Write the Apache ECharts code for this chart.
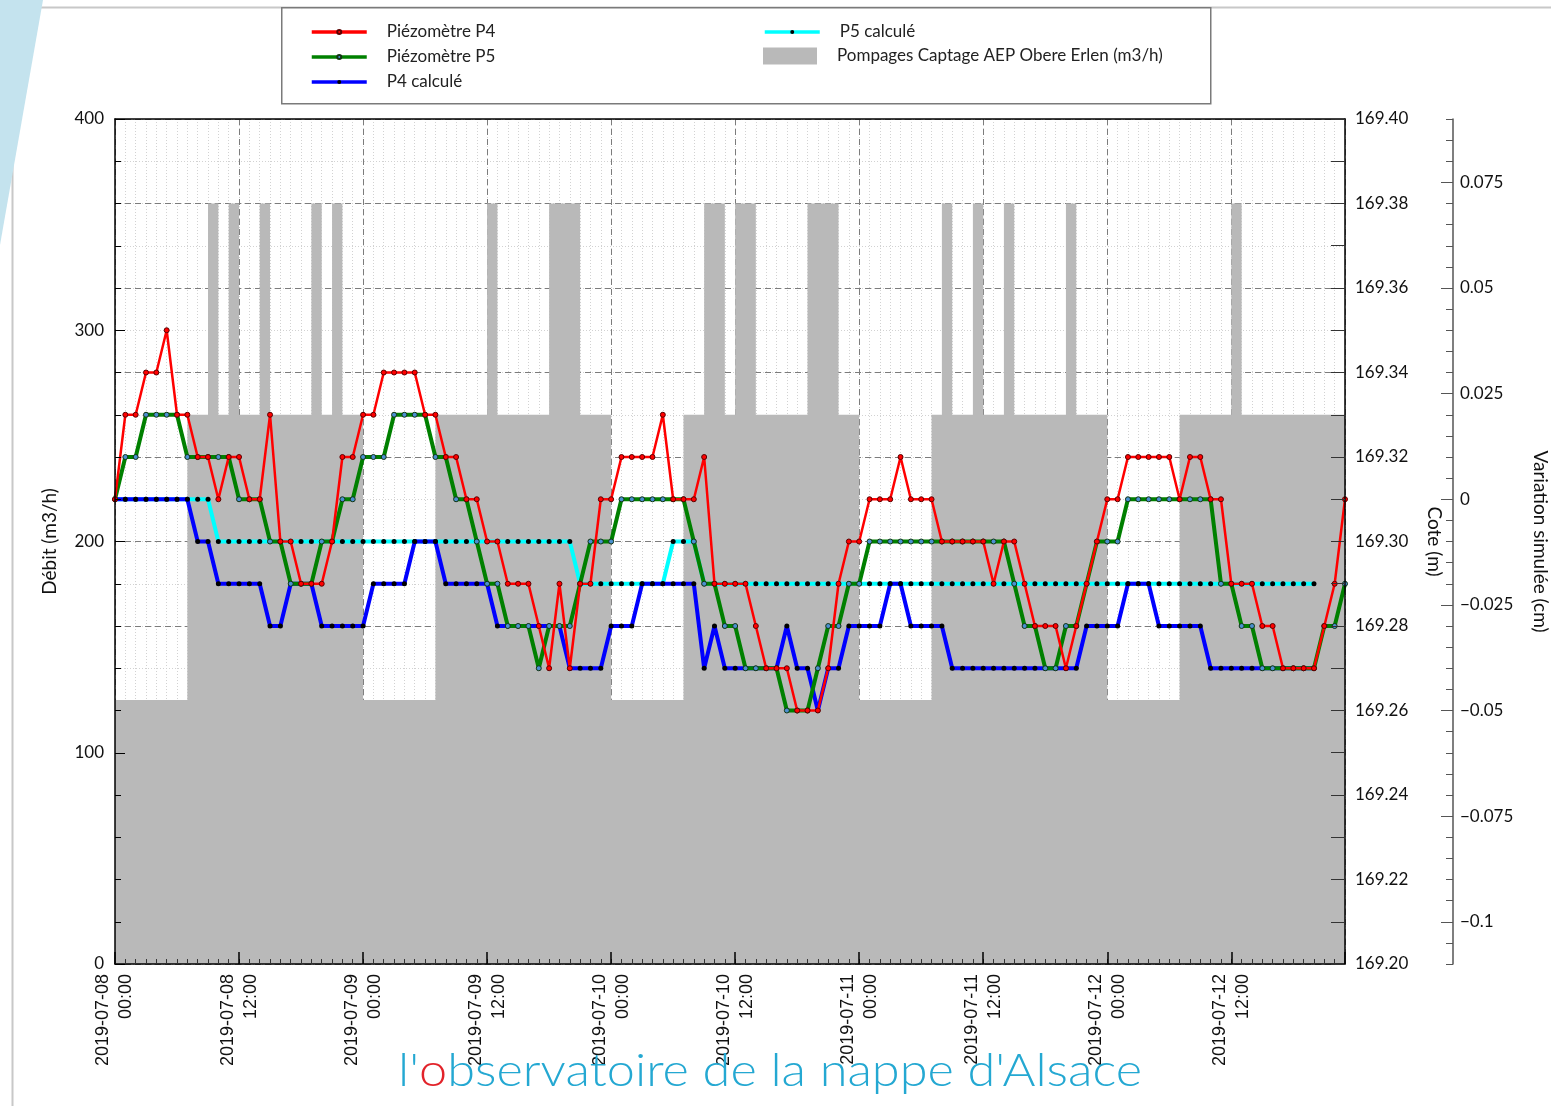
<!DOCTYPE html>
<html><head><meta charset="utf-8">
<script src="https://cdn.jsdelivr.net/npm/echarts@6/dist/echarts.min.js"></script>
<style>html,body{margin:0;padding:0;background:#fff}#c{width:1551px;height:1106px}</style>
</head><body><div id="c"></div>
<script>
// ---- categories (hourly, 2019-07-08 00:00 .. 2019-07-12 23:00) ----
const hours = [];
for (let i = 0; i < 120; i++) {
  const d = new Date(Date.UTC(2019, 6, 8, i));
  hours.push(d.toISOString().slice(0, 16).replace('T', ' '));
}
const xTickLabels = ['2019-07-08\n00:00','2019-07-08\n12:00','2019-07-09\n00:00','2019-07-09\n12:00',
  '2019-07-10\n00:00','2019-07-10\n12:00','2019-07-11\n00:00','2019-07-11\n12:00',
  '2019-07-12\n00:00','2019-07-12\n12:00'];
const varTickLabels = [-0.1,-0.075,-0.05,-0.025,0,0.025,0.05,0.075];

// ---- series values ----
const p4 = [169.31,169.33,169.33,169.34,169.34,169.35,169.33,169.33,169.32,169.32,
 169.31,169.32,169.32,169.31,169.31,169.33,169.30,169.30,169.29,169.29,
 169.29,169.30,169.32,169.32,169.33,169.33,169.34,169.34,169.34,169.34,
 169.33,169.33,169.32,169.32,169.31,169.31,169.30,169.30,169.29,169.29,
 169.29,169.28,169.27,169.29,169.27,169.29,169.29,169.31,169.31,169.32,
 169.32,169.32,169.32,169.33,169.31,169.31,169.31,169.32,169.29,169.29,
 169.29,169.29,169.28,169.27,169.27,169.27,169.26,169.26,169.26,169.27,
 169.29,169.30,169.30,169.31,169.31,169.31,169.32,169.31,169.31,169.31,
 169.30,169.30,169.30,169.30,169.30,169.29,169.30,169.30,169.29,169.28,
 169.28,169.28,169.27,169.28,169.29,169.30,169.31,169.31,169.32,169.32,
 169.32,169.32,169.32,169.31,169.32,169.32,169.31,169.31,169.29,169.29,
 169.29,169.28,169.28,169.27,169.27,169.27,169.27,169.28,169.29,169.31];
const p5 = [169.31,169.32,169.32,169.33,169.33,169.33,169.33,169.32,169.32,169.32,
 169.32,169.32,169.31,169.31,169.31,169.30,169.30,169.29,169.29,169.29,
 169.30,169.30,169.31,169.31,169.32,169.32,169.32,169.33,169.33,169.33,
 169.33,169.32,169.32,169.31,169.31,169.30,169.29,169.29,169.28,169.28,
 169.28,169.27,169.28,169.28,169.28,169.29,169.30,169.30,169.30,169.31,
 169.31,169.31,169.31,169.31,169.31,169.31,169.30,169.29,169.29,169.28,
 169.28,169.27,169.27,169.27,169.27,169.26,169.26,169.26,169.27,169.28,
 169.28,169.29,169.29,169.30,169.30,169.30,169.30,169.30,169.30,169.30,
 169.30,169.30,169.30,169.30,169.30,169.30,169.30,169.29,169.28,169.28,
 169.27,169.27,169.28,169.28,169.29,169.30,169.30,169.30,169.31,169.31,
 169.31,169.31,169.31,169.31,169.31,169.31,169.31,169.29,169.29,169.28,
 169.28,169.27,169.27,169.27,169.27,169.27,169.27,169.28,169.28,169.29];
const p4calc = [0,0,0,0,0,0,0,0,-0.01,-0.01,
 -0.02,-0.02,-0.02,-0.02,-0.02,-0.03,-0.03,-0.02,-0.02,-0.02,
 -0.03,-0.03,-0.03,-0.03,-0.03,-0.02,-0.02,-0.02,-0.02,-0.01,
 -0.01,-0.01,-0.02,-0.02,-0.02,-0.02,-0.02,-0.03,-0.03,-0.03,
 -0.03,-0.03,-0.03,-0.03,-0.04,-0.04,-0.04,-0.04,-0.03,-0.03,
 -0.03,-0.02,-0.02,-0.02,-0.02,-0.02,-0.02,-0.04,-0.03,-0.04,
 -0.04,-0.04,-0.04,-0.04,-0.04,-0.03,-0.04,-0.04,-0.05,-0.04,
 -0.04,-0.03,-0.03,-0.03,-0.03,-0.02,-0.02,-0.03,-0.03,-0.03,
 -0.03,-0.04,-0.04,-0.04,-0.04,-0.04,-0.04,-0.04,-0.04,-0.04,
 -0.04,-0.04,-0.04,-0.04,-0.03,-0.03,-0.03,-0.03,-0.02,-0.02,
 -0.02,-0.03,-0.03,-0.03,-0.03,-0.03,-0.04,-0.04,-0.04,-0.04,
 -0.04,-0.04,-0.04,-0.04,-0.04,-0.04,-0.04,null,null,null];
const p5calc = [0,0,0,0,0,0,0,0,0,0,
 -0.01,-0.01,-0.01,-0.01,-0.01,-0.01,-0.01,-0.01,-0.01,-0.01,
 -0.01,-0.01,-0.01,-0.01,-0.01,-0.01,-0.01,-0.01,-0.01,-0.01,
 -0.01,-0.01,-0.01,-0.01,-0.01,-0.01,-0.01,-0.01,-0.01,-0.01,
 -0.01,-0.01,-0.01,-0.01,-0.01,-0.02,-0.02,-0.02,-0.02,-0.02,
 -0.02,-0.02,-0.02,-0.02,-0.01,-0.01,-0.01,-0.02,-0.02,-0.02,
 -0.02,-0.02,-0.02,-0.02,-0.02,-0.02,-0.02,-0.02,-0.02,-0.02,
 -0.02,-0.02,-0.02,-0.02,-0.02,-0.02,-0.02,-0.02,-0.02,-0.02,
 -0.02,-0.02,-0.02,-0.02,-0.02,-0.02,-0.02,-0.02,-0.02,-0.02,
 -0.02,-0.02,-0.02,-0.02,-0.02,-0.02,-0.02,-0.02,-0.02,-0.02,
 -0.02,-0.02,-0.02,-0.02,-0.02,-0.02,-0.02,-0.02,-0.02,-0.02,
 -0.02,-0.02,-0.02,-0.02,-0.02,-0.02,-0.02,null,null,null];
const pompages = [125,125,125,125,125,125,125,260,260,360,
 260,360,260,260,360,260,260,260,260,360,
 260,360,260,260,125,125,125,125,125,125,
 125,260,260,260,260,260,360,260,260,260,
 260,260,360,360,360,260,260,260,125,125,
 125,125,125,125,125,260,260,360,360,260,
 360,360,260,260,260,260,260,360,360,360,
 260,260,125,125,125,125,125,125,125,260,
 360,260,260,360,260,260,360,260,260,260,
 260,260,360,260,260,260,125,125,125,125,
 125,125,125,260,260,260,260,260,360,260,
 260,260,260,260,260,260,260,260,260,260];

const pair = arr => arr.map((v, i) => [i, v]);
const F = 'Lato';
const TXT = '#111';

const chart = echarts.init(document.getElementById('c'));
const fmtVar = v => {
  const k = v / 0.025;
  if (Math.abs(k - Math.round(k)) > 1e-6) return '';
  const s = String(parseFloat(v.toFixed(3)));
  return s.replace('-', '\u2212');
};
const baseX = {type: 'value', min: 0, max: 119, gridIndex: 0,
  axisLine: {show: false, onZero: false}, axisTick: {show: false}, axisLabel: {show: false}, splitLine: {show: false}};
const legendText = {fontFamily: F, fontSize: 17, color: '#222', lineHeight: 20, padding: [0, 0, 0, 15]};

chart.setOption({
  animation: false,
  backgroundColor: '#fff',
  grid: {left: 115, right: 206, top: 119, bottom: 142, outerBoundsMode: 'none', containLabel: false},
  legend: [
    {data: ['Piézomètre P4', 'Piézomètre P5', 'P4 calculé'], orient: 'vertical', left: 305, top: 17,
     itemWidth: 55, itemHeight: 5, itemGap: 5, selectedMode: false, textStyle: legendText,
     lineStyle: {width: 3.5}},
    {data: ['P5 calculé'], orient: 'vertical', left: 758, top: 17,
     itemWidth: 55, itemHeight: 5, selectedMode: false, textStyle: legendText, lineStyle: {width: 3.5}},
    {data: [{name: 'Pompages Captage AEP Obere Erlen (m3/h)', icon: 'rect'}], orient: 'vertical', left: 758, top: 41,
     itemWidth: 54, itemHeight: 17, selectedMode: false, textStyle: legendText}
  ],
  xAxis: [
    Object.assign({}, baseX, {interval: 1, z: 0,
      splitLine: {show: true, lineStyle: {color: '#d2d2d2', type: [1, 2], width: 1}}}),
    Object.assign({}, baseX, {interval: 12, z: 1,
      splitLine: {show: true, lineStyle: {color: '#7c7c7c', type: [6, 4], width: 1}}}),
    Object.assign({}, baseX, {interval: 1, z: 10, position: 'bottom',
      axisLine: {show: true, onZero: false, lineStyle: {color: '#000', width: 1.5}},
      axisTick: {show: true, inside: true, length: 5, lineStyle: {color: '#333', width: 1}}}),
    Object.assign({}, baseX, {interval: 12, z: 11, position: 'bottom',
      axisTick: {show: true, inside: true, length: 12, lineStyle: {color: '#000', width: 1.5}},
      axisLabel: {show: true, rotate: 90, margin: 10, fontFamily: 'Liberation Sans', fontSize: 18,
        lineHeight: 23, color: TXT, interval: 0,
        formatter: v => { const k = v / 12; return (Number.isInteger(k) && k < xTickLabels.length) ? xTickLabels[k] : ''; }}}),
    Object.assign({}, baseX, {interval: 12, z: 10, position: 'top',
      axisLine: {show: true, onZero: false, lineStyle: {color: '#000', width: 1.5}}})
  ],
  yAxis: [
    {type: 'value', min: 0, max: 400, interval: 20, position: 'left', z: 0,
     axisLine: {show: false}, axisTick: {show: false}, axisLabel: {show: false},
     splitLine: {show: true, lineStyle: {color: '#d2d2d2', type: [1, 2], width: 1}}},
    {type: 'value', min: 169.2, max: 169.4, interval: 0.02, position: 'right', z: 1,
     axisLine: {show: false}, axisTick: {show: false}, axisLabel: {show: false},
     splitLine: {show: true, lineStyle: {color: '#7c7c7c', type: [6, 4], width: 1}}},
    {type: 'value', min: -0.11, max: 0.09, interval: 0.005, position: 'right', offset: 108, z: 10,
     axisLine: {show: true, onZero: false, lineStyle: {color: '#555', width: 1.5}},
     axisTick: {show: true, inside: true, length: 7, lineStyle: {color: '#555'}},
     axisLabel: {show: true, interval: 0, margin: 7, fontFamily: F, fontSize: 17, color: TXT, formatter: fmtVar},
     splitLine: {show: false},
     name: 'Variation simulée (cm)', nameLocation: 'middle', nameGap: 78, nameRotate: -90,
     nameTextStyle: {fontFamily: F, fontSize: 19, color: TXT}},
    {type: 'value', min: -0.11, max: 0.09, position: 'right', offset: 108, z: 10,
     axisLine: {show: false, onZero: false}, splitLine: {show: false}, axisLabel: {show: false},
     axisTick: {show: true, inside: true, length: 12, customValues: varTickLabels, lineStyle: {color: '#555'}}},
    {type: 'value', min: 0, max: 400, interval: 100, position: 'left', z: 10,
     axisLine: {show: true, onZero: false, lineStyle: {color: '#000', width: 1.5}},
     axisTick: {show: true, inside: true, length: 10, lineStyle: {color: '#000'}},
     minorTick: {show: true, splitNumber: 5, length: 6, lineStyle: {color: '#000'}},
     axisLabel: {show: true, margin: 11, fontFamily: F, fontSize: 17, color: TXT},
     splitLine: {show: false},
     name: 'Débit (m3/h)', nameLocation: 'middle', nameGap: 56,
     nameTextStyle: {fontFamily: F, fontSize: 19, color: TXT}},
    {type: 'value', min: 169.2, max: 169.4, interval: 0.02, position: 'right', z: 10,
     axisLine: {show: true, onZero: false, lineStyle: {color: '#000', width: 1.5}},
     axisTick: {show: true, inside: true, length: 14, lineStyle: {color: '#333'}},
     minorTick: {show: true, splitNumber: 2, length: 14, lineStyle: {color: '#333'}},
     axisLabel: {show: true, margin: 10, fontFamily: F, fontSize: 17, color: TXT, formatter: v => v.toFixed(2)},
     splitLine: {show: false},
     name: 'Cote (m)', nameLocation: 'middle', nameGap: 80, nameRotate: -90,
     nameTextStyle: {fontFamily: F, fontSize: 19, color: TXT}}
  ],
  series: [
    {name: 'Pompages Captage AEP Obere Erlen (m3/h)', type: 'line', step: 'end', xAxisIndex: 0, yAxisIndex: 0,
     data: pair(pompages), symbol: 'none', lineStyle: {width: 0}, itemStyle: {color: '#b9b9b9'},
     areaStyle: {color: '#b9b9b9', opacity: 1}, z: 2, silent: true},
    {name: 'P5 calculé', type: 'line', xAxisIndex: 0, yAxisIndex: 2, data: pair(p5calc),
     lineStyle: {color: '#00ffff', width: 4}, itemStyle: {color: '#000'}, symbol: 'circle', symbolSize: 5,
     showAllSymbol: true, z: 3, silent: true},
    {name: 'P4 calculé', type: 'line', xAxisIndex: 0, yAxisIndex: 2, data: pair(p4calc),
     lineStyle: {color: '#0000ff', width: 4}, itemStyle: {color: '#000'}, symbol: 'circle', symbolSize: 5,
     showAllSymbol: true, z: 4, silent: true},
    {name: 'Piézomètre P5', type: 'line', xAxisIndex: 0, yAxisIndex: 1, data: pair(p5),
     lineStyle: {color: '#008000', width: 4}, itemStyle: {color: '#4a90d0', borderColor: '#123312', borderWidth: 1},
     symbol: 'circle', symbolSize: 5, showAllSymbol: true, z: 5, silent: true},
    {name: 'Piézomètre P4', type: 'line', xAxisIndex: 0, yAxisIndex: 1, data: pair(p4),
     lineStyle: {color: '#ff0000', width: 2.5}, itemStyle: {color: '#ff0000', borderColor: '#5a0000', borderWidth: 1},
     symbol: 'circle', symbolSize: 5, showAllSymbol: true, z: 6, silent: true}
  ],
  graphic: [
    {type: 'rect', left: 10, top: 5, z: -10, silent: true,
     shape: {width: 1560, height: 1120}, style: {fill: 'none', stroke: '#c8c8c8', lineWidth: 2}},
    {type: 'polygon', z: -5, silent: true, shape: {points: [[0, 0], [43, 0], [0, 245]]}, style: {fill: '#c4e3ee'}},
    {type: 'rect', left: 281, top: 7, z: 0, silent: true,
     shape: {width: 929, height: 96}, style: {fill: '#fff', stroke: '#7a7a7a', lineWidth: 1.5}},
    {type: 'text', left: 398, top: 1048, z: 100, silent: true, scaleX: 1.097,
     style: {text: "{a|l'}{b|o}{a|bservatoire de la nappe d'Alsace}", fontFamily: F, fontSize: 46, fontWeight: 300,
       rich: {a: {fill: '#24a8d2', fontFamily: F, fontSize: 46, fontWeight: 300},
              b: {fill: '#e2232a', fontFamily: F, fontSize: 46, fontWeight: 300}}}}
  ]
});
</script></body></html>
